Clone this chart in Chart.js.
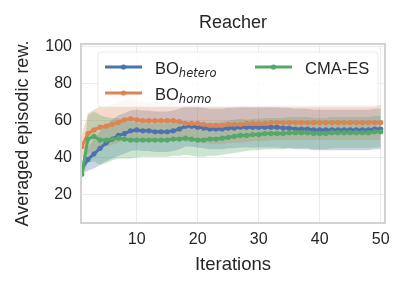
<!DOCTYPE html>
<html>
<head>
<meta charset="utf-8">
<script src="https://cdn.jsdelivr.net/npm/chart.js@4.4.1/dist/chart.umd.min.js"></script>
<style>
  html, body { margin: 0; padding: 0; background: #fff; }
  #wrap { width: 408px; height: 291px; }
</style>
</head>
<body>
<div id="wrap"><canvas id="reacher" width="408" height="291"></canvas></div>
<script>
// Iterations on the x axis
const iterations = [1, 2, 3, 4, 5, 6, 7, 8, 9, 10, 11, 12, 13, 14, 15, 16, 17, 18, 19, 20,
  21, 22, 23, 24, 25, 26, 27, 28, 29, 30, 31, 32, 33, 34, 35, 36, 37, 38, 39, 40,
  41, 42, 43, 44, 45, 46, 47, 48, 49, 50];

// mean reward per iteration
const boHetero = [34, 39, 42, 45, 48, 50, 52, 53, 54.5, 55, 54.5, 54.5, 54, 54, 54, 54.5, 55.5, 57, 57, 56.5,
  56, 55.5, 55.5, 55.5, 56, 56, 56.5, 56.5, 56.5, 56.5, 56.5, 56.5, 56.5, 56, 56, 55.5, 55.5, 55.5, 55, 55,
  55, 55, 55, 55, 55, 55, 55, 55, 55.5, 55.5];
const boHomo = [46, 53, 55, 56.5, 57, 58, 59, 60.5, 61, 60.5, 60, 60, 60, 60, 60, 60, 59.5, 58.5, 58.5, 58.5,
  58, 57.5, 57.5, 57.5, 58, 58, 58, 58.5, 58.5, 58.5, 58.5, 59, 59, 59, 59, 59, 59, 59, 59, 59,
  59, 59, 59, 59, 59, 59, 59, 59, 59, 59];
const cmaEs = [31, 50, 51.5, 49.5, 49.5, 50, 50.5, 50, 49.5, 49.5, 49.5, 49.5, 49.5, 49.5, 49.5, 50, 50, 50.5, 50, 49.5,
  49.5, 50, 50, 50.5, 51, 51.5, 52, 52, 52.5, 52.5, 53, 53, 53, 53, 53.5, 53.5, 53.5, 53.5, 53, 53,
  53, 53.5, 53.5, 53.5, 53.5, 53.5, 53.5, 53.5, 54, 54];

// spread (shaded band = mean +/- std)
const boHeteroStd = [3, 6, 8, 9, 10, 10.5, 11, 11, 11, 11, 11, 11, 11, 11, 11, 11, 11, 11, 11, 11,
  11, 11, 11, 11, 11, 11, 11, 11, 11, 11, 11, 11, 11, 11, 11, 11, 11, 11, 11, 11,
  11, 11, 11, 11, 11, 11, 11, 11, 11, 11];
const boHomoStd = [6, 11, 11, 11, 11, 11, 11, 11, 11, 10.5, 10.5, 10, 10, 10, 10, 10, 10, 10, 10, 10,
  10, 10, 10, 10, 10, 10, 10, 10, 9.5, 9.5, 9.5, 9.5, 9.5, 9.5, 9.5, 9.5, 9.5, 9.5, 9.5, 9.5,
  9.5, 9.5, 9.5, 9.5, 9.5, 9.5, 9.5, 9.5, 9.5, 9.5];
const cmaEsStd = [2, 13, 13.5, 13.5, 12.5, 11.5, 11, 10.5, 10, 9.5, 9, 9, 9, 9, 9, 9, 9, 9, 9, 9,
  9, 9, 9, 9, 9, 9, 9, 8.5, 8.5, 8.5, 8.5, 8.5, 8.5, 8.5, 8.5, 8.5, 8.5, 8.5, 8.5, 8.5,
  8.5, 8.5, 8.5, 8.5, 8.5, 8.5, 8.5, 8.5, 8.5, 8.5];

const xTicks = [10, 20, 30, 40, 50];
const yTicks = [20, 40, 60, 80, 100];

const family = '"Liberation Sans", Arial, sans-serif';
const textColor = '#262626';
const blue = '#4c72b0', orange = '#dd8452', green = '#55a868';

function pts(values, offset, sign) {
  return iterations.map((it, i) => ({ x: it, y: values[i] + (offset ? sign * offset[i] : 0) }));
}

function band(values, std, color, order) {
  const fillColor = color + '4d';
  return [
    { data: pts(values, std, 1), borderWidth: 0, pointRadius: 0, fill: '+1', backgroundColor: fillColor, order: order },
    { data: pts(values, std, -1), borderWidth: 0, pointRadius: 0, fill: false, order: order }
  ];
}

function line(values, color, order) {
  return {
    data: pts(values),
    borderColor: color,
    backgroundColor: color,
    borderWidth: 3,
    pointRadius: 2.6,
    pointBorderWidth: 0,
    pointBackgroundColor: color,
    fill: false,
    order: order
  };
}

// frame, title and legend drawn on top
const overlay = {
  id: 'overlay',
  afterDraw(chart) {
    const ctx = chart.ctx, a = chart.chartArea;
    ctx.save();
    ctx.strokeStyle = '#d2d2d2';
    ctx.lineWidth = 2;
    ctx.strokeRect(a.left, a.top, a.right - a.left, a.bottom - a.top);

    ctx.fillStyle = textColor;
    ctx.font = '18px ' + family;
    ctx.textAlign = 'center';
    ctx.textBaseline = 'middle';
    ctx.fillText('Reacher', (a.left + a.right) / 2, 23);

    // legend box
    ctx.beginPath();
    ctx.roundRect(98, 52, 280, 55, 3);
    ctx.fillStyle = 'rgba(255,255,255,0.8)';
    ctx.fill();
    ctx.strokeStyle = 'rgba(230,230,230,0.8)';
    ctx.lineWidth = 1;
    ctx.stroke();

    const entries = [
      { label: 'BO', sub: 'hetero', color: blue, x: 105, y: 67 },
      { label: 'BO', sub: 'homo', color: orange, x: 105, y: 93 },
      { label: 'CMA-ES', sub: '', color: green, x: 255, y: 67 }
    ];
    entries.forEach(e => {
      ctx.strokeStyle = e.color;
      ctx.lineWidth = 3;
      ctx.beginPath();
      ctx.moveTo(e.x, e.y);
      ctx.lineTo(e.x + 37, e.y);
      ctx.stroke();
      ctx.fillStyle = e.color;
      ctx.beginPath();
      ctx.arc(e.x + 18.5, e.y, 2.6, 0, Math.PI * 2);
      ctx.fill();

      ctx.fillStyle = textColor;
      ctx.textAlign = 'left';
      ctx.textBaseline = 'alphabetic';
      ctx.font = '16.5px ' + family;
      const tx = e.x + 50;
      ctx.fillText(e.label, tx, e.y + 7);
      if (e.sub) {
        const w = ctx.measureText(e.label).width;
        ctx.font = 'italic 11.5px "DejaVu Sans", sans-serif';
        ctx.fillText(e.sub, tx + w, e.y + 10);
      }
    });
    ctx.restore();
  }
};

new Chart(document.getElementById('reacher'), {
  type: 'line',
  data: {
    datasets: [
      line(cmaEs, green, 0),
      line(boHomo, orange, 1),
      line(boHetero, blue, 2),
      ...band(cmaEs, cmaEsStd, green, 10),
      ...band(boHomo, boHomoStd, orange, 11),
      ...band(boHetero, boHeteroStd, blue, 12)
    ]
  },
  options: {
    responsive: false,
    animation: false,
    layout: { padding: { left: 0, right: 23, top: 44, bottom: 0 } },
    plugins: {
      legend: { display: false },
      tooltip: { enabled: false },
      title: { display: false }
    },
    scales: {
      x: {
        type: 'linear',
        min: 0.87,
        max: 50.7,
        afterBuildTicks: s => { s.ticks = xTicks.map(v => ({ value: v })); },
        afterFit: s => { s.height = 68; },
        grid: { color: '#ebebeb', lineWidth: 1, drawTicks: false },
        border: { display: false },
        ticks: { color: textColor, font: { family: family, size: 16 }, padding: 7 },
        title: {
          display: true,
          text: 'Iterations',
          color: textColor,
          font: { family: family, size: 18.5 },
          padding: { top: 0, bottom: 15 }
        }
      },
      y: {
        min: 4.5,
        max: 101.6,
        afterBuildTicks: s => { s.ticks = yTicks.map(v => ({ value: v })); },
        afterFit: s => { s.width = 81; },
        grid: { color: '#ebebeb', lineWidth: 1, drawTicks: false },
        border: { display: false },
        ticks: { color: textColor, font: { family: family, size: 16 }, padding: 9 },
        title: {
          display: true,
          text: 'Averaged episodic rew.',
          color: textColor,
          font: { family: family, size: 18 },
          padding: { top: 12, bottom: 0 }
        }
      }
    }
  },
  plugins: [overlay]
});
</script>
</body>
</html>
